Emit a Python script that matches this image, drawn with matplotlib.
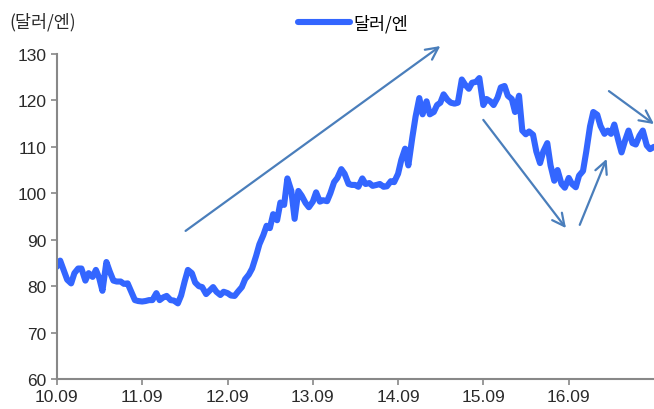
import matplotlib
matplotlib.use("Agg")
import matplotlib.pyplot as plt
import pandas as pd

# semi-monthly USD/JPY readings (1st and 15th of each month), 2010.09 - 2017.09
start = "2010-09-01"
end = "2017-09-01"
usdjpy = [
    # 2010 Sep-Dec
    84.2, 85.5, 83.3, 81.4, 80.6, 82.8, 83.8, 83.8,
    # 2011
    81.2, 82.8, 82.0, 83.5, 81.8, 79.0, 85.2, 83.2, 81.2, 81.0, 81.0, 80.5,
    80.6, 79.0, 77.0, 76.8, 76.7, 76.8, 77.0, 77.0, 78.5, 77.0, 77.6, 77.9,
    # 2012
    77.0, 76.9, 76.3, 78.0, 81.0, 83.5, 82.8, 80.8, 80.0, 79.8, 78.3, 79.0,
    79.8, 78.8, 78.1, 78.8, 78.5, 78.0, 77.9, 78.8, 79.8, 81.5, 82.5, 83.8,
    # 2013
    86.5, 89.0, 91.0, 93.0, 92.5, 95.5, 94.2, 98.0, 97.5, 103.2, 100.5, 94.5,
    100.5, 99.5, 97.9, 97.0, 98.2, 100.2, 98.2, 98.5, 98.3, 100.0, 102.4, 103.3,
    # 2014
    105.2, 104.2, 102.0, 101.8, 101.8, 101.4, 103.2, 102.0, 102.2, 101.6, 101.8, 102.0,
    101.4, 101.5, 102.6, 102.4, 104.2, 107.2, 109.6, 106.0, 112.0, 116.5, 120.5, 117.0,
    # 2015
    119.8, 117.0, 117.5, 119.0, 119.5, 121.3, 120.1, 119.5, 119.3, 119.5, 124.5, 123.4,
    122.5, 123.8, 124.0, 124.8, 119.0, 120.3, 119.8, 119.0, 120.6, 122.8, 123.1, 121.0,
    # 2016
    120.3, 117.5, 121.0, 113.5, 112.7, 113.3, 112.6, 109.0, 106.5, 109.0, 110.8, 106.0,
    102.7, 105.0, 102.0, 101.2, 103.3, 102.0, 101.3, 103.8, 104.8, 109.0, 114.4, 117.5,
    # 2017 Jan-Aug
    116.9, 114.5, 112.8, 113.5, 112.8, 114.8, 111.4, 108.8, 111.5, 113.5, 110.8, 110.5,
    112.4, 113.5, 110.3, 109.5,
    # 2017 Sep
    110.0,
]

tick_dates = ["2010-09-01", "2011-09-01", "2012-09-01", "2013-09-01",
              "2014-09-01", "2015-09-01", "2016-09-01"]
tick_labels = ["10.09", "11.09", "12.09", "13.09", "14.09", "15.09", "16.09"]

# trend arrows: (start date, start value, end date, end value)
arrows = [
    ("2012-03-05", 91.9, "2015-03-01", 131.7),
    ("2015-09-01", 115.8, "2016-08-20", 92.5),
    ("2016-10-18", 93.2, "2017-02-10", 107.4),
    ("2017-02-20", 122.0, "2017-09-01", 114.9),
]

dates = pd.date_range(start, end, freq="SMS")

fig = plt.figure(figsize=(6.54, 4.10), dpi=100)
ax = fig.add_axes([0.087, 0.073, 0.913, 0.793])

line, = ax.plot(dates, usdjpy[:len(dates)], color="#3366FF", lw=4.4,
                solid_joinstyle="round", solid_capstyle="round", label="달러/엔")

for x0, y0, x1, y1 in arrows:
    ax.annotate("", xy=(pd.Timestamp(x1), y1), xytext=(pd.Timestamp(x0), y0),
                arrowprops=dict(arrowstyle="->", color="#4A7EBB", lw=1.6,
                                mutation_scale=22, shrinkA=0, shrinkB=0),
                annotation_clip=False)

ax.set_xlim(pd.Timestamp(start), pd.Timestamp(end))
ax.set_ylim(60, 130)
ax.set_yticks(range(60, 131, 10))
ax.set_xticks([pd.Timestamp(d) for d in tick_dates])
ax.set_xticklabels(tick_labels)

for s in ["top", "right"]:
    ax.spines[s].set_visible(False)
for s in ["left", "bottom"]:
    ax.spines[s].set_color("#888888")
    ax.spines[s].set_linewidth(1.5)
ax.tick_params(axis="both", colors="#888888", length=4, width=1.2,
               labelcolor="#2a2a2a", labelsize=12.5)
for lab in ax.get_xticklabels() + ax.get_yticklabels():
    lab.set_family(["Liberation Sans", "DejaVu Sans"])

fig.text(0.014, 0.945, "(달러/엔)", family=["Noto Sans CJK KR", "DejaVu Sans"],
         fontsize=12.5, color="#2a2a2a", va="center", ha="left")

fig.legend(handles=[line], loc="center", bbox_to_anchor=(0.54, 0.942),
           frameon=False, handlelength=3.0, handletextpad=0.2,
           prop={"family": "Noto Sans CJK KR", "size": 12.5})

fig.savefig("out.png", dpi=100)
